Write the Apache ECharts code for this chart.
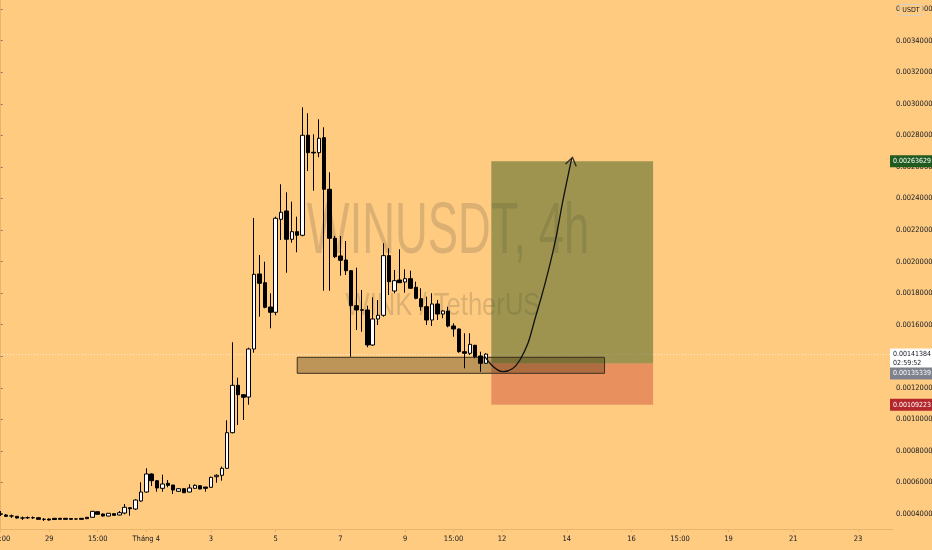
<!DOCTYPE html>
<html><head><meta charset="utf-8">
<script src="https://cdn.jsdelivr.net/npm/echarts@6/dist/echarts.min.js"></script>
<style>html,body{margin:0;padding:0;background:#FECB80;}#c{width:932px;height:550px;}</style>
</head><body><div id="c"></div>
<script>
// ---- time slots (4h candles) and axis tick labels ----
const slotCount = 166;
const labelSlots = [0, 9, 18, 27, 39, 51, 63, 75, 84, 93, 105, 117, 126, 135, 147, 159];
const labelTexts = ['15:00', '29', '15:00', 'Tháng 4', '3', '5', '7', '9', '15:00', '12', '14', '16', '15:00', '19', '21', '23'];

// ---- candle values (WINUSDT, 4h) ----
const open = [0.0004005,0.0003937,0.0003876,0.0003854,0.0003749,0.0003768,0.0003768,0.0003765,0.0003667,0.0003683,
0.0003727,0.0003727,0.0003727,0.0003715,0.0003686,0.0003727,0.0003791,0.0003791,0.0004146,0.0004000,
0.0003873,0.0004019,0.0003937,0.0004063,0.0004399,0.0004317,0.0004824,0.0005395,0.0006536,0.0006111,
0.0005629,0.0005946,0.0005838,0.0005439,0.0005604,0.0005395,0.0005629,0.0005794,0.0005712,0.0005693,
0.0006364,0.0006453,0.0006897,0.0009154,0.0012158,0.0011562,0.0011417,0.0014459,0.0019214,0.0018662,
0.0017122,0.0016786,0.0022681,0.0023207,0.0021413,0.0021895,0.0021667,0.0028006,0.0026929,0.0026903,
0.0027854,0.0024583,0.0021477,0.0020355,0.0020101,0.0019423,0.0017204,0.0016944,0.0016932,0.0014713,
0.0016361,0.0016596,0.0020374,0.0018136,0.0018833,0.0018706,0.0018916,0.0018371,0.0017648,0.0017141,
0.0016298,0.0017312,0.0016678,0.0016868,0.0015918,0.0015727,0.0014288,0.0014187,0.0014694,0.0014016,
0.0013553];
const close = [0.0004000,0.0003854,0.0003873,0.0003746,0.0003746,0.0003765,0.0003765,0.0003664,0.0003664,0.0003620,
0.0003651,0.0003664,0.0003664,0.0003664,0.0003683,0.0003664,0.0003702,0.0004171,0.0003981,0.0003873,
0.0004044,0.0003918,0.0004082,0.0004425,0.0004336,0.0004887,0.0005395,0.0006536,0.0006111,0.0005648,
0.0005902,0.0005819,0.0005521,0.0005604,0.0005350,0.0005648,0.0005819,0.0005585,0.0005629,0.0006326,
0.0006453,0.0006897,0.0009154,0.0012158,0.0011562,0.0011398,0.0014459,0.0019194,0.0018624,0.0017103,
0.0016786,0.0022745,0.0023125,0.0021413,0.0021895,0.0021667,0.0028006,0.0026903,0.0026884,0.0027816,
0.0024583,0.0021477,0.0020310,0.0020082,0.0019423,0.0017204,0.0016932,0.0016919,0.0014713,0.0016361,
0.0016596,0.0020374,0.0018726,0.0018789,0.0018662,0.0018916,0.0018307,0.0017673,0.0017141,0.0016298,
0.0017312,0.0016678,0.0016868,0.0015918,0.0015727,0.0014288,0.0014187,0.0014757,0.0013971,0.0013553,
0.0014138];
const low = [0.0003873,0.0003810,0.0003746,0.0003715,0.0003620,0.0003683,0.0003683,0.0003639,0.0003556,0.0003588,
0.0003620,0.0003639,0.0003639,0.0003639,0.0003639,0.0003639,0.0003683,0.0003765,0.0003956,0.0003842,
0.0003854,0.0003892,0.0003918,0.0003981,0.0003892,0.0004254,0.0004780,0.0005350,0.0005775,0.0005414,
0.0005414,0.0005693,0.0005268,0.0005395,0.0005331,0.0005376,0.0005604,0.0005566,0.0005414,0.0005667,
0.0005984,0.0006111,0.0006872,0.0009116,0.0009642,0.0009959,0.0010928,0.0014225,0.0016507,0.0017039,
0.0015772,0.0016596,0.0021369,0.0019296,0.0021198,0.0020589,0.0021600,0.0025743,0.0024494,0.0026612,
0.0018155,0.0018155,0.0020228,0.0019106,0.0019150,0.0013971,0.0015664,0.0015556,0.0014567,0.0014650,
0.0015981,0.0016507,0.0017882,0.0017990,0.0018640,0.0018028,0.0018280,0.0017610,0.0016887,0.0015981,
0.0015918,0.0016298,0.0016406,0.0015835,0.0015239,0.0014225,0.0013236,0.0014079,0.0013870,0.0013020,
0.0013540];
const high = [0.0004190,0.0004000,0.0003968,0.0003873,0.0003842,0.0003842,0.0003842,0.0003810,0.0003746,0.0003715,
0.0003746,0.0003746,0.0003746,0.0003746,0.0003715,0.0003746,0.0003810,0.0004190,0.0004171,0.0004032,
0.0004063,0.0004044,0.0004190,0.0004634,0.0004425,0.0004932,0.0006009,0.0006897,0.0006580,0.0006130,
0.0006491,0.0006155,0.0005838,0.0005629,0.0005629,0.0005883,0.0005883,0.0005819,0.0005712,0.0006364,
0.0006517,0.0007011,0.0009940,0.0014884,0.0012640,0.0011600,0.0014542,0.0022764,0.0020418,0.0019993,
0.0017990,0.0022846,0.0024900,0.0024393,0.0023797,0.0022846,0.0029781,0.0029400,0.0028069,0.0029020,
0.0028513,0.0025661,0.0021622,0.0021622,0.0021305,0.0019460,0.0019613,0.0018199,0.0017204,0.0017737,
0.0017565,0.0021160,0.0020843,0.0019467,0.0020779,0.0019511,0.0019423,0.0018726,0.0018307,0.0017775,
0.0017990,0.0017565,0.0016932,0.0017141,0.0016089,0.0015750,0.0015455,0.0015455,0.0014720,0.0014288,
0.0014187];

// ---- price tags / long position tool ----
const lastPrice = 0.00141384;
const countdown = '02:59:52';
const entryPrice = 0.00135339;
const targetPrice = 0.00263629;
const stopPrice = 0.00109223;
const positionSlots = [91, 121];
// ---- support zone rectangle ----
const zoneSlots = [55, 112];
const zonePrices = [0.0012919, 0.0013933];
// ---- hand-drawn curve arrow ----
const curveSlots = [89.8, 93.2, 96.3, 99.4, 102.5, 104.3, 105.9];
const curvePrices = [0.0013971, 0.0013020, 0.0013762, 0.0016722, 0.0020735, 0.0023905, 0.0026548];
// ---- visible price range ----
const priceMin = 0.000305, priceMax = 0.003658;

const FONT = "'Liberation Sans Narrow','DejaVu Sans Condensed',sans-serif";
const TXT = '#131722';
const AXIS = '#E9B46B';

const categories = [];
for (let i = 0; i < slotCount; i++) categories.push('s' + i);
const labelMap = {};
labelSlots.forEach((s, k) => labelMap[s] = labelTexts[k]);
const candles = open.map((o, i) => [o, close[i], low[i], high[i]]);
const curveData = curveSlots.map((x, i) => [x, curvePrices[i]]);
const last = curveData[curveData.length - 1];

const chart = echarts.init(document.getElementById('c'), null, {renderer: 'canvas'});

const watermark = [
  {id: 'wm1', type: 'text', silent: true, z: 0, x: 448, y: 233, scaleX: 0.63,
    style: {text: 'WINUSDT, 4h', fontSize: 72, fontFamily: '"Liberation Sans", sans-serif', fill: 'rgba(110,90,70,0.24)', align: 'center', verticalAlign: 'middle'}},
  {id: 'wm2', type: 'text', silent: true, z: 0, x: 443, y: 306, scaleX: 0.8,
    style: {text: 'WINK / TetherUS', fontSize: 32, fontFamily: '"Liberation Sans", sans-serif', fill: 'rgba(110,90,70,0.24)', align: 'center', verticalAlign: 'middle'}},
  {id: 'usdt', type: 'text', silent: true, z: 100, x: 911, y: 10,
    style: {text: 'USDT', fontSize: 7, fontFamily: FONT, fill: TXT, align: 'center', verticalAlign: 'middle',
      backgroundColor: '#FECB80', borderColor: '#D8CFC0', borderWidth: 1, padding: [2, 2, 1, 2]}}
];

chart.setOption({
  animation: false,
  backgroundColor: '#FECB80',
  grid: {left: -2, right: 39, top: 0, bottom: 21, containLabel: false, outerBoundsMode: 'none'},
  xAxis: [{
    type: 'category', data: categories, boundaryGap: true,
    axisLine: {show: true, lineStyle: {color: AXIS, width: 1}},
    axisTick: {show: true, alignWithLabel: true, length: 3, lineStyle: {color: AXIS},
      interval: (i) => labelMap[i] !== undefined},
    axisLabel: {interval: 0, margin: 6, color: TXT, fontFamily: FONT, fontSize: 7.5,
      formatter: (v, i) => labelMap[i] !== undefined ? labelMap[i] : ''},
    splitLine: {show: false}
  }, {
    type: 'value', min: -0.5, max: slotCount - 0.5, show: false
  }],
  yAxis: {
    type: 'value', position: 'right', min: priceMin, max: priceMax,
    splitNumber: 17, minInterval: 0.0002, maxInterval: 0.0002,
    axisLine: {show: true, lineStyle: {color: AXIS}},
    axisTick: {show: true, length: 2, lineStyle: {color: '#8a7a60'}},
    axisLabel: {showMinLabel: false, showMaxLabel: false, margin: 3, color: TXT, fontFamily: FONT, fontSize: 7.5,
      formatter: (v) => v.toFixed(8)},
    splitLine: {show: false}
  },
  graphic: watermark,
  series: [{
    type: 'candlestick', name: 'WINUSDT', data: candles, barWidth: 4,
    itemStyle: {color: '#FFFFFF', color0: '#000000', borderColor: '#000000', borderColor0: '#000000', borderWidth: 1}
  }, {
    type: 'line', name: 'position', xAxisIndex: 1, data: [], silent: true,
    markArea: {silent: true, label: {show: false},
      data: [
        [{xAxis: positionSlots[0], yAxis: entryPrice, itemStyle: {color: 'rgba(61,94,32,0.5)'}}, {xAxis: positionSlots[1], yAxis: targetPrice}],
        [{xAxis: positionSlots[0], yAxis: stopPrice, itemStyle: {color: 'rgba(209,88,60,0.5)'}}, {xAxis: positionSlots[1], yAxis: entryPrice}]
      ]}
  }, {
    type: 'line', name: 'zone', xAxisIndex: 1, data: [], silent: true,
    markArea: {silent: true, label: {show: false},
      itemStyle: {color: 'rgba(40,25,0,0.3)', borderColor: '#3A3020', borderWidth: 1},
      data: [[{xAxis: zoneSlots[0], yAxis: zonePrices[1]}, {xAxis: zoneSlots[1], yAxis: zonePrices[0]}]]}
  }, {
    type: 'line', name: 'curve', xAxisIndex: 1, data: curveData, smooth: 0.45, symbol: 'none', silent: true,
    lineStyle: {color: '#111111', width: 1.3}, z: 5
  }, {
    type: 'scatter', name: 'arrowhead', xAxisIndex: 1, data: [last], silent: true, z: 6,
    symbol: 'path://M0,10 L5,0 L10,10', symbolSize: [11, 8], symbolRotate: -12, symbolOffset: [0, 3],
    itemStyle: {color: 'rgba(0,0,0,0)', borderColor: '#111111', borderWidth: 1.3}
  }]
});

// price tags on the right scale and the last-price line, placed through the y axis scale
const py = (v) => chart.convertToPixel({yAxisIndex: 0}, v);
const gridLeft = chart.convertToPixel({xAxisIndex: 1}, -0.5);
const gridRight = chart.convertToPixel({xAxisIndex: 1}, slotCount - 0.5);
const tag = (id, v, txt, bg, fg, dy) => ({
  id: id, type: 'text', silent: true, z: 50, x: gridRight - 3, y: py(v) + (dy || 0),
  style: {text: txt, fontSize: 7, fontFamily: FONT, fill: fg, align: 'left', verticalAlign: 'middle',
    backgroundColor: bg, padding: [2, 2, 1, 3], lineHeight: 9}
});
const yLast = py(lastPrice);
chart.setOption({
  graphic: watermark.concat([
    {id: 'lastLine', type: 'line', silent: true, z: 1,
      shape: {x1: gridLeft, y1: Math.round(yLast) + 0.5, x2: gridRight, y2: Math.round(yLast) + 0.5},
      style: {stroke: 'rgba(255,255,255,0.6)', lineWidth: 1, lineDash: [1, 2]}},
    tag('tLast', lastPrice, lastPrice.toFixed(8) + '\n' + countdown, '#FFFFFF', TXT, 5),
    tag('tTarget', targetPrice, targetPrice.toFixed(8), '#1F5A1F', '#FFFFFF'),
    tag('tEntry', entryPrice, entryPrice.toFixed(8), '#7E828C', '#FFFFFF', 10),
    tag('tStop', stopPrice, stopPrice.toFixed(8), '#B3262B', '#FFFFFF')
  ])
});
</script></body></html>
